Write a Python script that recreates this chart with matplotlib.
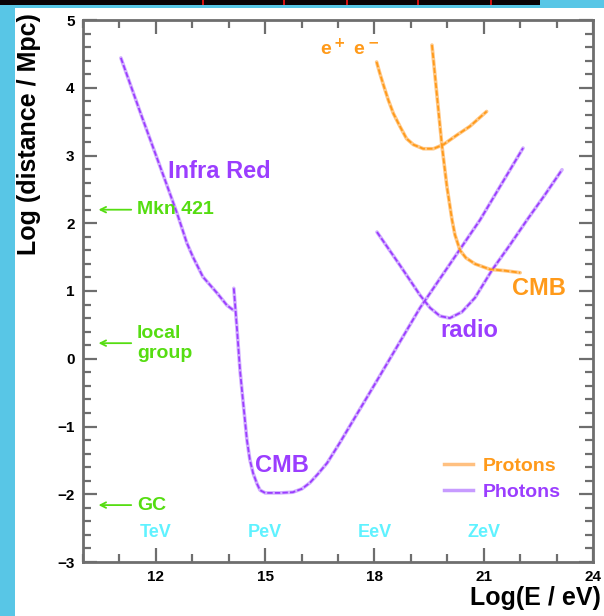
import matplotlib.pyplot as plt
from matplotlib.patches import Rectangle
from matplotlib.lines import Line2D

# --- curve data (log E / eV, log distance / Mpc) ---
ir_x = [11.04, 11.59, 12.25, 12.58, 12.85, 13.02, 13.29, 13.68, 13.95, 14.12]
ir_y = [4.44, 3.61, 2.64, 2.15, 1.71, 1.50, 1.21, 0.97, 0.79, 0.72]

cmb_ph_x = [14.14, 14.23, 14.31, 14.39, 14.50, 14.58, 14.67, 14.78, 14.86, 15.0, 15.41, 15.76,
            16.01, 16.23, 16.45, 16.70, 17.05, 18.15, 19.25, 20.90, 22.08]
cmb_ph_y = [1.04, 0.42, -0.17, -0.61, -1.20, -1.49, -1.69, -1.85, -1.94, -1.98, -1.98, -1.97,
            -1.92, -1.83, -1.70, -1.54, -1.24, -0.25, 0.75, 2.05, 3.11]

radio_x = [18.07, 18.70, 19.25, 19.53, 19.80, 20.07, 20.40, 20.76, 21.23, 21.72, 22.19, 22.68, 23.15]
radio_y = [1.87, 1.38, 0.94, 0.75, 0.63, 0.60, 0.69, 0.90, 1.31, 1.68, 2.05, 2.42, 2.79]

prot_x = [19.58, 19.85, 19.99, 20.13, 20.21, 20.35, 20.51, 20.76, 21.17, 21.58, 22.0]
prot_y = [4.63, 3.16, 2.54, 2.05, 1.83, 1.60, 1.49, 1.40, 1.32, 1.30, 1.27]

ee_x = [18.06, 18.15, 18.26, 18.38, 18.52, 18.70, 18.88, 19.07, 19.34, 19.62, 19.89, 20.26, 20.62, 21.08]
ee_y = [4.38, 4.21, 4.02, 3.82, 3.62, 3.43, 3.25, 3.16, 3.10, 3.10, 3.16, 3.30, 3.43, 3.65]

# sources marked on the distance axis
src_names = ['Mkn 421', 'local\ngroup', 'GC']
src_dist = [2.20, 0.23, -2.16]

# energy unit names
unit_names = ['TeV', 'PeV', 'EeV', 'ZeV']
unit_pos = [12, 15, 18, 21]

ORANGE = '#ff9a1a'
PURPLE = '#9b3dff'
GREEN = '#55dd11'
CYAN = '#5ff2ff'
GREY = '#6e6e6e'

fig = plt.figure(figsize=(6.04, 6.16), dpi=100, facecolor='#58c6e6')
# white sheet + black strip at the top (slide background)
fig.patches.append(Rectangle((15/604, 0), 1, 1 - 8/616, transform=fig.transFigure,
                             facecolor='white', edgecolor='none', zorder=-3))
fig.patches.append(Rectangle((0, 1 - 5/616), 540/604, 5/616, transform=fig.transFigure,
                             facecolor='#0a0306', edgecolor='none', zorder=-3))
for xr in [202, 283, 346, 417, 490]:
    fig.patches.append(Rectangle((xr/604, 1 - 5/616), 2/604, 5/616, transform=fig.transFigure,
                                 facecolor='#d01010', edgecolor='none', zorder=-2))

ax = fig.add_axes([83/604, 1 - 562/616, 510/604, 542/616])
ax.set_facecolor('white')
ax.set_zorder(1)


def curve(x, y, col, light):
    ax.plot(x, y, color=light, lw=2.6, solid_capstyle='round', solid_joinstyle='round', zorder=3)
    ax.plot(x, y, color=col, lw=1.3, ls=(0, (3, 1.2)), zorder=4)


curve(ir_x, ir_y, PURPLE, '#d2b0ff')
curve(cmb_ph_x, cmb_ph_y, PURPLE, '#d2b0ff')
curve(radio_x, radio_y, PURPLE, '#d2b0ff')
curve(prot_x, prot_y, ORANGE, '#ffc886')
curve(ee_x, ee_y, ORANGE, '#ffc886')

bold = dict(fontweight='bold', family='Liberation Sans')
ax.text(12.33, 2.76, 'Infra Red', color=PURPLE, fontsize=17, va='center', **bold)
ax.text(14.72, -1.58, 'CMB', color=PURPLE, fontsize=17, va='center', **bold)
ax.text(19.80, 0.42, 'radio', color=PURPLE, fontsize=17, va='center', **bold)
ax.text(21.78, 1.03, 'CMB', color=ORANGE, fontsize=17, va='center', **bold)
ax.text(17.33, 4.58, 'e$^{\\bf +}$ e$^{\\bf -}$', color=ORANGE, fontsize=14, ha='center', va='center', **bold)

for name, d in zip(src_names, src_dist):
    ax.annotate('', xy=(10.35, d), xytext=(11.4, d),
                arrowprops=dict(arrowstyle='->', color=GREEN, lw=1.3))
    ax.text(11.48, d, name, color=GREEN, fontsize=14, va='center', linespacing=1.25, **bold)

for name, e in zip(unit_names, unit_pos):
    ax.text(e, -2.57, name, color=CYAN, fontsize=13, ha='center', va='center', **bold)

handles = [Line2D([], [], color='#ffc080', lw=2.5), Line2D([], [], color='#c79bff', lw=2.5)]
leg = ax.legend(handles, ['Protons', 'Photons'], loc='upper left', bbox_to_anchor=(0.674, 0.226),
                frameon=False, handlelength=1.5, handletextpad=0.5, labelspacing=0.45,
                prop=dict(weight='bold', family='Liberation Sans', size=14))
for t, c in zip(leg.get_texts(), [ORANGE, PURPLE]):
    t.set_color(c)

ax.set_xlim(10, 24)
ax.set_ylim(-3, 5)
ax.set_xticks([12, 15, 18, 21, 24])
ax.set_xticks(range(10, 25), minor=True)
ax.set_yticks(range(-3, 6))
ax.set_yticks([v / 5 for v in range(-15, 26)], minor=True)
ax.tick_params(which='both', direction='in', top=True, right=True, color=GREY, width=1.6)
ax.tick_params(which='major', length=10, labelsize=11, pad=6)
ax.tick_params(which='minor', length=6)
for lab in ax.get_xticklabels() + ax.get_yticklabels():
    lab.set_fontweight('bold')
    lab.set_family('Liberation Sans')
for s in ax.spines.values():
    s.set_color(GREY)
    s.set_linewidth(2)

ax.set_xlabel('Log(E / eV)', fontsize=18, loc='right', **bold)
ax.xaxis.set_label_coords(1.015, -0.045)
ax.set_ylabel('Log (distance / Mpc)', fontsize=18, loc='top', **bold)
ax.yaxis.set_label_coords(-0.082, 1.013)

fig.savefig('out.png', dpi=100, facecolor=fig.get_facecolor())
